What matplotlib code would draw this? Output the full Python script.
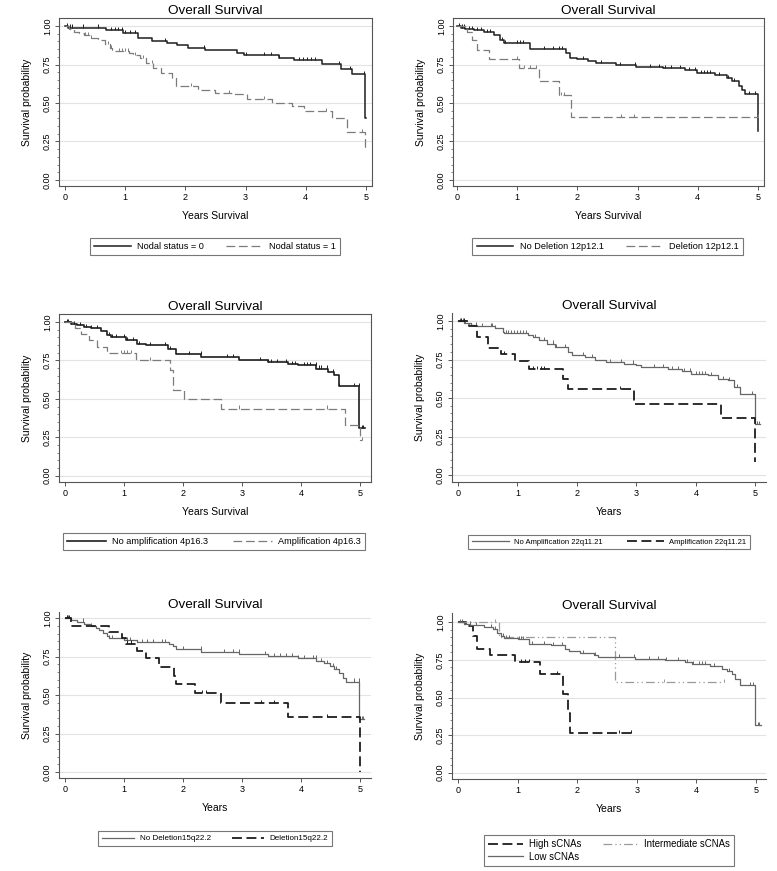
import numpy as np
import matplotlib
matplotlib.use("Agg")
import matplotlib.pyplot as plt

plt.rcParams["font.family"] = ["Liberation Sans", "DejaVu Sans"]

# panel 1: nodal status
nodal0_t = [0, 0.05, 0.68, 0.96, 1.21, 1.44, 1.70, 1.86, 2.05, 2.33, 2.85, 2.97, 3.55, 3.81, 4.27, 4.58, 4.77, 4.99]
nodal0_s = [1.0, 0.99, 0.972, 0.957, 0.92, 0.903, 0.887, 0.874, 0.857, 0.842, 0.827, 0.812, 0.794, 0.777, 0.751, 0.723, 0.686, 0.40]
nodal0_c = [0.04, 0.08, 0.11, 0.3, 0.55, 0.77, 0.83, 0.88, 0.94, 1.0, 1.08, 1.16, 1.66, 2.31, 3.0, 3.3, 3.42, 3.55,
            3.88, 3.95, 4.02, 4.08, 4.16, 4.55, 4.74, 4.97]
nodal1_t = [0, 0.07, 0.15, 0.24, 0.32, 0.43, 0.55, 0.66, 0.74, 0.78, 1.07, 1.13, 1.24, 1.35, 1.46, 1.60, 1.77, 1.85,
            2.21, 2.49, 2.77, 3.02, 3.44, 3.77, 3.97, 4.43, 4.69, 4.99]
nodal1_s = [1.0, 0.978, 0.963, 0.952, 0.94, 0.924, 0.907, 0.88, 0.859, 0.838, 0.823, 0.81, 0.794, 0.762, 0.73, 0.697,
            0.665, 0.61, 0.584, 0.567, 0.556, 0.528, 0.498, 0.48, 0.448, 0.40, 0.312, 0.21]
nodal1_c = [0.33, 0.38, 0.43, 0.72, 0.77, 0.9, 0.95, 1.0, 1.05, 1.16, 1.29, 1.44, 1.77, 2.1, 2.49, 2.72, 3.02, 3.3, 4.33, 4.94]

# panel 2: deletion 12p12.1
nodel12_t = [0, 0.06, 0.14, 0.28, 0.45, 0.61, 0.72, 0.78, 1.22, 1.81, 1.87, 2.0, 2.17, 2.31, 2.64, 2.98, 3.42, 3.79,
             3.98, 4.29, 4.48, 4.57, 4.68, 4.73, 4.79, 5.0]
nodel12_s = [1.0, 0.99, 0.983, 0.974, 0.961, 0.94, 0.909, 0.892, 0.848, 0.827, 0.794, 0.784, 0.773, 0.76, 0.749, 0.736,
             0.725, 0.714, 0.697, 0.68, 0.665, 0.643, 0.61, 0.584, 0.556, 0.318]
nodel12_c = [0.03, 0.08, 0.12, 0.2, 0.25, 0.33, 0.4, 0.5, 0.55, 0.75, 0.8, 1.0, 1.05, 1.1, 1.45, 1.6, 1.7, 1.75, 2.1,
             2.4, 2.7, 2.95, 3.2, 3.35, 3.45, 3.55, 3.7, 3.85, 3.95, 4.05, 4.1, 4.15, 4.2, 4.35, 4.5, 4.6, 4.85, 4.95]
del12_t = [0, 0.17, 0.25, 0.33, 0.53, 1.03, 1.36, 1.70, 1.89]
del12_s = [1.0, 0.96, 0.912, 0.845, 0.788, 0.729, 0.643, 0.55, 0.411]
del12_c = [1.0, 1.12, 1.22, 1.32, 1.73, 1.77, 2.72, 2.94, 5.0]

# panel 3: amplification 4p16.3
noamp4_t = [0, 0.10, 0.21, 0.33, 0.44, 0.61, 0.72, 0.78, 1.04, 1.23, 1.37, 1.74, 1.88, 2.31, 2.96, 3.44, 3.78, 3.95,
            4.26, 4.46, 4.57, 4.65, 4.99]
noamp4_s = [1.0, 0.987, 0.978, 0.968, 0.961, 0.94, 0.913, 0.90, 0.88, 0.859, 0.848, 0.827, 0.794, 0.773, 0.755, 0.74,
            0.725, 0.718, 0.697, 0.675, 0.654, 0.584, 0.31]
noamp4_c = [0.03, 0.06, 0.1, 0.15, 0.25, 0.35, 0.45, 0.55, 0.75, 0.8, 0.87, 1.0, 1.05, 1.15, 1.25, 1.45, 1.7, 1.78,
            2.1, 2.3, 2.75, 2.85, 3.3, 3.45, 3.5, 3.6, 3.75, 3.85, 3.9, 4.05, 4.1, 4.15, 4.25, 4.3, 4.35, 4.45, 4.55,
            4.65, 4.9, 4.98, 5.03, 5.06]
amp4_t = [0, 0.17, 0.27, 0.41, 0.54, 0.72, 1.20, 1.78, 1.83, 2.02, 2.65, 4.75, 5.0]
amp4_s = [1.0, 0.96, 0.92, 0.88, 0.838, 0.80, 0.75, 0.69, 0.56, 0.50, 0.437, 0.33, 0.23]
amp4_c = [0.95, 1.0, 1.05, 1.12, 1.45, 2.95, 4.45, 5.03]

# panel 4: amplification 22q11.21
noamp22_t = [0, 0.11, 0.22, 0.31, 0.62, 0.76, 0.78, 1.18, 1.26, 1.37, 1.49, 1.63, 1.85, 1.91, 2.13, 2.30, 2.49, 2.80,
             3.0, 3.08, 3.53, 3.76, 3.92, 4.20, 4.37, 4.54, 4.65, 4.75, 4.99]
noamp22_s = [1.0, 0.989, 0.974, 0.965, 0.952, 0.93, 0.92, 0.909, 0.898, 0.876, 0.854, 0.833, 0.80, 0.778, 0.767, 0.75,
             0.735, 0.724, 0.713, 0.702, 0.687, 0.674, 0.657, 0.648, 0.626, 0.615, 0.572, 0.528, 0.33]
noamp22_c = [0.03, 0.08, 0.12, 0.3, 0.4, 0.55, 0.58, 0.62, 0.8, 0.85, 0.9, 0.95, 1.0, 1.05, 1.1, 1.15, 1.3, 1.45, 1.6,
             1.65, 1.8, 2.1, 2.25, 2.55, 2.75, 2.95, 3.3, 3.45, 3.6, 3.7, 3.8, 3.9, 4.0, 4.05, 4.1, 4.15, 4.25, 4.45,
             4.55, 4.7, 4.95, 5.03, 5.06]
amp22_t = [0, 0.18, 0.32, 0.51, 0.72, 0.96, 1.19, 1.77, 1.85, 2.96, 4.43, 4.99]
amp22_s = [1.0, 0.967, 0.898, 0.824, 0.786, 0.74, 0.688, 0.623, 0.558, 0.461, 0.372, 0.087]
amp22_c = [0.05, 0.1, 0.78, 1.27, 1.33, 1.39, 1.45, 2.72]

# panel 5: deletion 15q22.2
nodel15_t = [0, 0.10, 0.21, 0.33, 0.44, 0.53, 0.58, 0.64, 0.72, 0.75, 1.01, 1.23, 1.77, 1.83, 1.88, 2.31, 2.96, 3.44,
             3.95, 4.26, 4.40, 4.49, 4.57, 4.65, 4.71, 4.77, 4.99]
nodel15_s = [1.0, 0.989, 0.978, 0.963, 0.95, 0.935, 0.92, 0.902, 0.885, 0.87, 0.859, 0.844, 0.83, 0.816, 0.798, 0.777,
             0.768, 0.755, 0.738, 0.724, 0.707, 0.69, 0.668, 0.642, 0.61, 0.588, 0.345]
nodel15_c = [0.03, 0.06, 0.1, 0.3, 0.45, 0.75, 0.8, 1.05, 1.1, 1.3, 1.4, 1.5, 1.65, 1.7, 2.0, 2.3, 2.7, 2.85, 2.95, 3.4,
             3.55, 3.65, 3.75, 3.85, 3.95, 4.05, 4.2, 4.25, 4.35, 4.45, 4.55, 4.6, 4.9, 4.98, 5.03, 5.06]
del15_t = [0, 0.10, 0.75, 0.97, 1.04, 1.22, 1.37, 1.59, 1.85, 1.89, 2.20, 2.64, 3.79, 5.0]
del15_s = [1.0, 0.952, 0.913, 0.873, 0.835, 0.785, 0.74, 0.685, 0.625, 0.571, 0.514, 0.451, 0.36, 0.0]
del15_c = [0.03, 0.07, 1.06, 1.12, 2.32, 2.39, 3.33, 3.55, 4.45]

# panel 6: sCNA groups
low_t = [0, 0.10, 0.21, 0.44, 0.58, 0.66, 0.72, 0.78, 1.0, 1.20, 1.56, 1.79, 1.87, 2.04, 2.29, 2.35, 2.97, 3.47, 3.81,
         3.92, 4.23, 4.43, 4.51, 4.60, 4.65, 4.74, 4.98]
low_s = [1.0, 0.991, 0.98, 0.967, 0.953, 0.931, 0.909, 0.896, 0.887, 0.858, 0.847, 0.825, 0.807, 0.798, 0.78, 0.768,
         0.758, 0.747, 0.736, 0.725, 0.707, 0.692, 0.674, 0.659, 0.625, 0.581, 0.315]
low_c = [0.03, 0.06, 0.1, 0.2, 0.3, 0.55, 0.62, 0.75, 0.8, 0.85, 1.02, 1.05, 1.1, 1.25, 1.45, 1.6, 1.75, 2.1, 2.3, 2.7,
         2.95, 3.2, 3.35, 3.5, 3.7, 3.85, 3.95, 4.05, 4.1, 4.15, 4.3, 4.55, 4.65, 4.9, 4.95, 5.03, 5.06]
high_t = [0, 0.14, 0.25, 0.32, 0.54, 0.95, 1.37, 1.77, 1.84, 1.88]
high_s = [1.0, 0.975, 0.91, 0.82, 0.78, 0.736, 0.658, 0.525, 0.40, 0.266]
high_c = [1.05, 1.12, 1.2, 1.67, 2.71, 2.91]
inter_t = [0, 0.69, 2.63]
inter_s = [1.0, 0.90, 0.60]
inter_c = [0.62, 3.45, 4.46]

BLACK = "#1e1e1e"
GRAY = "#7c7c7c"
MIDGRAY = "#666666"
LIGHT = "#9a9a9a"

W, H = 777, 871


def px_axes(fig, l, t, r, b):
    return fig.add_axes([l / W, 1 - b / H, (r - l) / W, (b - t) / H])


def km(ax, t, s, end, cens, color, lw, dashes=None):
    x = np.append(t, end)
    y = np.append(s, s[-1])
    line, = ax.step(x, y, where="post", color=color, lw=lw)
    if dashes:
        line.set_dashes(dashes)
    idx = np.searchsorted(t, cens, side="right") - 1
    cy = np.asarray(s)[idx]
    ax.vlines(cens, cy, cy + 0.02, color=color, lw=0.7)
    return line


def style(ax, box, xlim, ylim, xlabel, wpx, hpx):
    ax.set_xlim(*xlim)
    ax.set_ylim(*ylim)
    ax.set_xticks(range(6))
    ax.set_yticks([0, 0.25, 0.5, 0.75, 1.0])
    ax.set_yticks(np.arange(0, 1.0001, 0.05), minor=True)
    ax.set_yticklabels(["0.00", "0.25", "0.50", "0.75", "1.00"])
    ax.grid(axis="y", color="#e3e3e3", lw=0.8)
    ax.set_axisbelow(True)
    for side in ["top", "right"]:
        ax.spines[side].set_visible(box)
    for sp in ax.spines.values():
        sp.set_color("#555555")
        sp.set_linewidth(0.8)
    ax.tick_params(axis="both", which="major", length=3, width=0.7, color="#555555", labelsize=6.5, pad=2)
    ax.tick_params(axis="y", which="minor", length=1.5, width=0.5, color="#555555")
    ax.tick_params(axis="y", labelrotation=90)
    for lbl in ax.get_yticklabels():
        lbl.set_va("center")
    ax.set_title("Overall Survival", fontsize=9.7, pad=3)
    ax.set_ylabel("Survival probability", fontsize=7.5)
    ax.set_xlabel(xlabel, fontsize=7.5)
    ax.yaxis.set_label_coords(-27 / wpx, 0.5)
    ax.xaxis.set_label_coords(0.5, -25 / hpx)


def legend(fig, handles, labels, cx, cy, fs, hl, cs, ncol=2):
    leg = fig.legend(handles, labels, loc="center", bbox_to_anchor=(cx / W, 1 - cy / H), ncol=ncol,
                     fontsize=fs, handlelength=hl, columnspacing=cs, handletextpad=0.7,
                     frameon=True, fancybox=False, borderpad=0.45, labelspacing=0.25)
    leg.get_frame().set_edgecolor("#555555")
    leg.get_frame().set_linewidth(0.8)
    return leg


fig = plt.figure(figsize=(W / 100, H / 100), dpi=100)

# panel 1
ax = px_axes(fig, 59, 18, 372, 186)
h0 = km(ax, nodal0_t, nodal0_s, 5.0, nodal0_c, BLACK, 1.1)
h1 = km(ax, nodal1_t, nodal1_s, 5.0, nodal1_c, GRAY, 0.9, (7, 3))
style(ax, True, (-0.1, 5.1), (-0.039, 1.052), "Years Survival", 313, 168)
legend(fig, [h0, h1], ["Nodal status = 0", "Nodal status = 1"], 215, 246.5, 6.6, 4.0, 2.4)

# panel 2
ax = px_axes(fig, 453, 18, 764, 186)
h0 = km(ax, nodel12_t, nodel12_s, 5.0, nodel12_c, BLACK, 1.1)
h1 = km(ax, del12_t, del12_s, 5.0, del12_c, GRAY, 0.9, (7, 3))
style(ax, True, (-0.066, 5.1), (-0.039, 1.052), "Years Survival", 311, 168)
legend(fig, [h0, h1], ["No Deletion 12p12.1", "Deletion 12p12.1"], 607.5, 246.5, 6.6, 4.0, 2.4)

# panel 3
ax = px_axes(fig, 59, 314, 371, 482)
h0 = km(ax, noamp4_t, noamp4_s, 5.08, noamp4_c, BLACK, 1.2)
h1 = km(ax, amp4_t, amp4_s, 5.04, amp4_c, GRAY, 0.9, (7, 3))
style(ax, True, (-0.1, 5.19), (-0.041, 1.052), "Years Survival", 312, 168)
legend(fig, [h0, h1], ["No amplification 4p16.3", "Amplification 4p16.3"], 214, 541.5, 6.6, 4.2, 2.7)

# panel 4
ax = px_axes(fig, 452, 313, 766, 482)
h0 = km(ax, noamp22_t, noamp22_s, 5.08, noamp22_c, MIDGRAY, 0.9)
h1 = km(ax, amp22_t, amp22_s, 5.0, amp22_c, BLACK, 1.3, (5.5, 2.5))
style(ax, False, (-0.1, 5.18), (-0.045, 1.052), "Years", 314, 169)
legend(fig, [h0, h1], ["No Amplification 22q11.21", "Amplification 22q11.21"], 609, 542, 5.5, 4.8, 3.2)

# panel 5
ax = px_axes(fig, 59, 612, 371, 778)
h0 = km(ax, nodel15_t, nodel15_s, 5.07, nodel15_c, MIDGRAY, 0.9)
h1 = km(ax, del15_t, del15_s, 5.0, del15_c, BLACK, 1.3, (5.5, 2.5))
style(ax, False, (-0.1, 5.19), (-0.039, 1.04), "Years", 312, 166)
legend(fig, [h0, h1], ["No Deletion15q22.2", "Deletion15q22.2"], 215, 838.5, 5.8, 4.0, 2.6)

# panel 6
ax = px_axes(fig, 452, 613, 766, 779)
hh = km(ax, high_t, high_s, 2.93, high_c, BLACK, 1.3, (5.5, 2.5))
hi = km(ax, inter_t, inter_s, 4.46, inter_c, LIGHT, 0.9, (7, 2.5, 1, 2.5, 1, 2.5))
hl = km(ax, low_t, low_s, 5.08, low_c, MIDGRAY, 0.9)
style(ax, False, (-0.1, 5.17), (-0.042, 1.062), "Years", 314, 166)
legend(fig, [hh, hl, hi], ["High sCNAs", "Low sCNAs", "Intermediate sCNAs"], 609, 850.5, 6.9, 3.6, 2.2)

fig.savefig("out.png", dpi=100)
